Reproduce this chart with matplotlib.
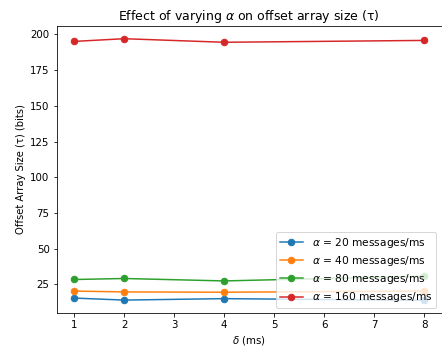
import matplotlib
matplotlib.use("Agg")
import matplotlib.pyplot as plt

# delta values (ms)
delta = [1, 2, 4, 8]

# offset array size (bits) per alpha
alpha_20 = [15.5, 14.1, 15.1, 13.9]
alpha_40 = [20.4, 19.8, 19.6, 20.4]
alpha_80 = [28.5, 29.2, 27.5, 30.8]
alpha_160 = [195.1, 197.0, 194.5, 195.8]

labels = [r'$\alpha$ = 20 messages/ms', r'$\alpha$ = 40 messages/ms',
          r'$\alpha$ = 80 messages/ms', r'$\alpha$ = 160 messages/ms']

fig = plt.figure(figsize=(442 / 72, 351 / 72), dpi=72)
ax = fig.add_axes([0.128, 0.107, 0.871, 0.820])

for series, label in zip([alpha_20, alpha_40, alpha_80, alpha_160], labels):
    ax.plot(delta, series, marker='o', markersize=6.5, label=label)

ax.set_title(r'Effect of varying $\alpha$ on offset array size (τ)', fontsize=12.5)
ax.set_xlabel(r'$\delta$ (ms)', fontsize=10.3)
ax.set_ylabel('Offset Array Size (τ) (bits)')
ax.tick_params(labelsize=10.2)
ax.legend(loc='lower right', fontsize=10.6, handlelength=2.2, handletextpad=0.85,
          labelspacing=0.4, borderpad=0.35)

fig.savefig('out.png', dpi=72)
